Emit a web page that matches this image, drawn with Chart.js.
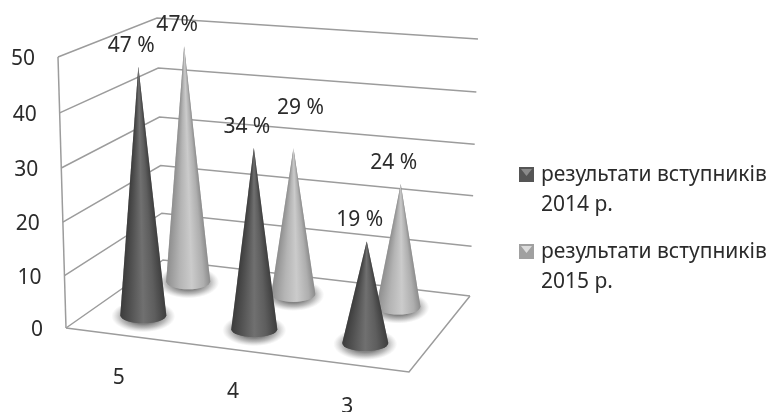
<!DOCTYPE html>
<html lang="uk">
<head>
<meta charset="utf-8">
<title>Результати вступників</title>
<script src="https://cdn.jsdelivr.net/npm/chart.js@4"></script>
<style>
    html, body { margin: 0; padding: 0; background: #fff; overflow: hidden; }
    canvas { display: block; }
</style>
</head>
<body>
<canvas id="coneChart" width="773" height="412"></canvas>
<script>
// Дані діаграми
const categories = ['5', '4', '3'];
const values2014 = [47, 34, 19];
const values2015 = [47, 29, 24];
const labels2014 = ['47 %', '34 %', '19 %'];
const labels2015 = ['47%', '29 %', '24 %'];
const seriesNames = ['результати вступників 2014 р.', 'результати вступників 2015 р.'];
const yTickStep = 10;
const yMax = 50;

const FONT = '"Noto Sans", sans-serif';
const TEXT_COLOR = '#2b2b2b';
const GRID_COLOR = '#9c9c9c';

// Кути 3D-коробки: підлога та верх стінки
const floorQuad = { fl: [66, 328], fr: [409, 372], br: [470, 296], bl: [163, 260] };
const topQuad = { fl: [58, 57], fr: [415, 86], br: [478, 39], bl: [157, 18] };

// Глибина ряду конусів і вигляд кожної серії
const rowStyles = [
    {
        depth: 0.28, radius: 23, ry: 8,
        stops: [[0, '#3c3c3c'], [0.2, '#505050'], [0.5, '#707070'], [0.75, '#5e5e5e'], [1, '#3e3e3e']],
        iconTop: '#8a8a8a', iconBottom: '#555555'
    },
    {
        depth: 0.77, radius: 22, ry: 8,
        stops: [[0, '#8e8e8e'], [0.3, '#b4b4b4'], [0.58, '#cbcbcb'], [0.85, '#aeaeae'], [1, '#8c8c8c']],
        iconTop: '#dcdcdc', iconBottom: '#a0a0a0'
    }
];

function lerp(a, b, t) {
    return a + (b - a) * t;
}

function quadPoint(q, u, v) {
    return [
        lerp(lerp(q.fl[0], q.fr[0], u), lerp(q.bl[0], q.br[0], u), v),
        lerp(lerp(q.fl[1], q.fr[1], u), lerp(q.bl[1], q.br[1], u), v)
    ];
}

// u - вздовж категорій, v - у глибину, w - частка висоти осі
function project(u, v, w) {
    const f = quadPoint(floorQuad, u, v);
    const t = quadPoint(topQuad, u, v);
    const k = w - 0.04 * w * (1 - w); // легке перспективне стиснення
    return [lerp(f[0], t[0], k), lerp(f[1], t[1], k)];
}

function strokeLine(ctx, points) {
    ctx.beginPath();
    points.forEach((p, i) => (i ? ctx.lineTo(p[0], p[1]) : ctx.moveTo(p[0], p[1])));
    ctx.stroke();
}

function categoryU(chart, index) {
    const x = chart.scales.x;
    return (x.getPixelForValue(index) - x.left) / x.width - 0.016;
}

function drawBox(chart) {
    const { ctx } = chart;
    const y = chart.scales.y;
    const y0 = y.getPixelForValue(0);
    const yTop = y.getPixelForValue(yMax);

    ctx.save();
    ctx.strokeStyle = GRID_COLOR;
    ctx.lineWidth = 1.5;
    y.ticks.forEach(tick => {
        const w = (y0 - y.getPixelForValue(tick.value)) / (y0 - yTop);
        strokeLine(ctx, [project(0, 0, w), project(0, 1, w), project(1, 1, w)]);
    });
    strokeLine(ctx, [project(0, 0, 0), project(0, 0, 1)]);
    strokeLine(ctx, [project(0, 0, 0), project(1, 0, 0), project(1, 1, 0)]);

    // Підписи осі значень
    ctx.fillStyle = TEXT_COLOR;
    ctx.font = `21px ${FONT}`;
    ctx.textAlign = 'right';
    ctx.textBaseline = 'middle';
    y.ticks.forEach(tick => {
        const w = (y0 - y.getPixelForValue(tick.value)) / (y0 - yTop);
        const p = project(0, 0, w);
        ctx.fillText(tick.label, p[0] - 23, p[1] + 2);
    });

    // Підписи категорій уздовж переднього краю підлоги
    ctx.textAlign = 'center';
    categories.forEach((cat, i) => {
        const p = project(categoryU(chart, i), 0, 0);
        ctx.fillText(cat, p[0] + 1, p[1] + 43);
    });
    ctx.restore();
}

function drawCone(ctx, base, apex, style) {
    const a = style.radius;
    const b = style.ry;

    // М'яка тінь під основою
    ctx.save();
    ctx.translate(base[0], base[1] + 1);
    ctx.scale(1, (b + 8) / (a + 9));
    const glow = ctx.createRadialGradient(0, 0, a * 0.7, 0, 0, a + 9);
    glow.addColorStop(0, 'rgba(90,90,90,0.75)');
    glow.addColorStop(0.45, 'rgba(120,120,120,0.5)');
    glow.addColorStop(1, 'rgba(160,160,160,0)');
    ctx.fillStyle = glow;
    ctx.beginPath();
    ctx.arc(0, 0, a + 9, 0, Math.PI * 2);
    ctx.fill();
    ctx.restore();

    // Силует конуса: вершина, боки та нижня дуга основи
    ctx.save();
    ctx.beginPath();
    ctx.moveTo(apex[0], apex[1]);
    ctx.lineTo(base[0] - a, base[1]);
    ctx.ellipse(base[0], base[1], a, b, 0, Math.PI, 0, true);
    ctx.closePath();
    ctx.clip();

    // Заливка рядками: ширина градієнта сходиться до вершини
    const span = base[1] - apex[1];
    for (let py = Math.floor(apex[1]); py < base[1] + b + 1; py++) {
        const k = Math.max(0.002, Math.min(1, (py + 0.5 - apex[1]) / span));
        const cx = lerp(apex[0], base[0], k);
        const hw = a * k;
        const grad = ctx.createLinearGradient(cx - hw, 0, cx + hw, 0);
        style.stops.forEach(s => grad.addColorStop(s[0], s[1]));
        ctx.fillStyle = grad;
        ctx.fillRect(cx - hw - 1, py, 2 * hw + 2, 1.5);
    }
    ctx.restore();
}

function drawCones(chart) {
    const { ctx } = chart;
    const y = chart.scales.y;
    const y0 = y.getPixelForValue(0);
    const yTop = y.getPixelForValue(yMax);
    const apexes = [];

    // Задній ряд малюється першим
    for (let d = chart.data.datasets.length - 1; d >= 0; d--) {
        const style = rowStyles[d];
        chart.getDatasetMeta(d).data.forEach((bar, i) => {
            const u = categoryU(chart, i);
            const w = (y0 - bar.y) / (y0 - yTop);
            const base = project(u, style.depth, 0);
            const apex = project(u, style.depth, w);
            drawCone(ctx, base, apex, style);
            apexes.push({
                apex,
                text: chart.data.datasets[d].valueLabels[i],
                shift: d === 1 && i === 1 ? [7, -40] : [-7, -21]
            });
        });
    }

    ctx.save();
    ctx.fillStyle = TEXT_COLOR;
    ctx.font = `21px ${FONT}`;
    ctx.textAlign = 'center';
    ctx.textBaseline = 'middle';
    apexes.forEach(item => {
        ctx.fillText(item.text, item.apex[0] + item.shift[0], item.apex[1] + item.shift[1]);
    });
    ctx.restore();
}

function drawLegend(chart) {
    const { ctx } = chart;
    const rows = [175, 252];

    ctx.save();
    ctx.font = `21px ${FONT}`;
    ctx.textAlign = 'left';
    ctx.textBaseline = 'middle';
    chart.data.datasets.forEach((ds, d) => {
        const style = rowStyles[d];
        const top = rows[d] - 8;
        ctx.fillStyle = style.iconBottom;
        ctx.fillRect(519, top, 15, 15);
        ctx.fillStyle = style.iconTop;
        ctx.beginPath();
        ctx.moveTo(521, top + 2);
        ctx.lineTo(532, top + 2);
        ctx.lineTo(526.5, top + 9);
        ctx.closePath();
        ctx.fill();

        // Назва серії переноситься перед роком
        const words = ds.label.split(' ');
        ctx.fillStyle = TEXT_COLOR;
        ctx.fillText(words.slice(0, 2).join(' '), 541, rows[d]);
        ctx.fillText(words.slice(2).join(' '), 541, rows[d] + 30);
    });
    ctx.restore();
}

const conePlugin = {
    id: 'cones',
    beforeDatasetsDraw(chart) {
        drawBox(chart);
    },
    afterDatasetsDraw(chart) {
        drawCones(chart);
        drawLegend(chart);
    }
};

new Chart(document.getElementById('coneChart'), {
    type: 'bar',
    data: {
        labels: categories,
        datasets: [
            { label: seriesNames[0], data: values2014, valueLabels: labels2014, backgroundColor: 'transparent' },
            { label: seriesNames[1], data: values2015, valueLabels: labels2015, backgroundColor: 'transparent' }
        ]
    },
    options: {
        responsive: false,
        animation: false,
        layout: { padding: { left: 66, right: 364, top: 60, bottom: 83 } },
        plugins: {
            legend: { display: false },
            tooltip: { enabled: false }
        },
        scales: {
            x: { display: false },
            y: { display: false, min: 0, max: yMax, ticks: { stepSize: yTickStep } }
        }
    },
    plugins: [conePlugin]
});
</script>
</body>
</html>
